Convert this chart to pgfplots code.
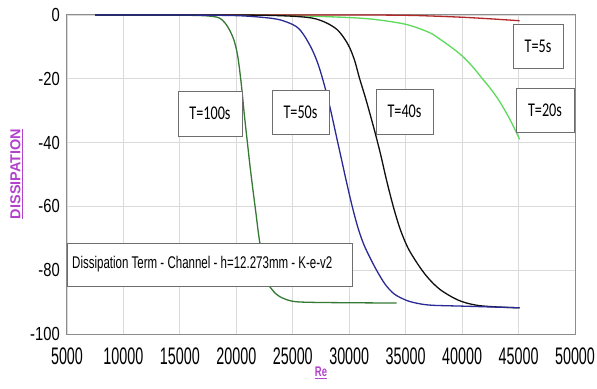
\documentclass[border=0pt]{standalone}
\usepackage{fontspec}
\usepackage{pgfplots}
\pgfplotsset{compat=1.18}
\setmainfont{Liberation Sans}
\newfontfamily\ytickfont{Liberation Sans}[FakeStretch=0.78]
\newfontfamily\xtickfont{Liberation Sans}[FakeStretch=0.6]
\newfontfamily\notefont{Liberation Sans}[FakeStretch=0.68]
\newfontfamily\boxfont{Carlito}[FakeStretch=0.73]

\definecolor{gridgray}{RGB}{218,218,218}
\definecolor{axisgray}{RGB}{140,140,140}
\definecolor{boxgray}{RGB}{110,110,110}
\definecolor{labelpurple}{RGB}{178,66,204}
\definecolor{cA}{RGB}{52,122,52}   % T=100s
\definecolor{cB}{RGB}{42,42,150}   % T=50s
\definecolor{cC}{RGB}{15,15,15}    % T=40s
\definecolor{cD}{RGB}{92,218,92}   % T=20s
\definecolor{cE}{RGB}{178,40,40}   % T=5s

\begin{document}
\begin{tikzpicture}
\begin{axis}[
  at={(0,0)}, anchor=south west,
  scale only axis, width=508bp, height=319bp,
  xmin=5000, xmax=50000, ymin=-100, ymax=0,
  xtick={5000,10000,...,50000}, ytick={-100,-80,...,0},
  grid=major, major grid style={draw=gridgray, line width=0.8bp},
  axis line style={draw=axisgray, line width=1bp},
  tick style={draw=none},
  scaled x ticks=false,
  /pgf/number format/assume math mode=true,
  /pgf/number format/1000 sep={},
  xticklabel style={font=\xtickfont\fontsize{24}{24}\selectfont, anchor=north, inner sep=0pt, yshift=-14bp},
  yticklabel style={font=\ytickfont\fontsize{19}{19}\selectfont, anchor=east, inner sep=0pt, xshift=-7bp},
  every axis plot/.append style={line width=1.3bp, no marks, smooth, tension=0.5},
]
% T=20s
\addplot[cD] coordinates {(7500,0) (20000,0) (25000,-0.2) (30000,-0.8) (32500,-1.5) (35100,-3) (37100,-5.5) (38000,-7.5) (39000,-10) (40000,-12.8) (41000,-16.5) (41800,-20) (42500,-23) (43300,-27) (44200,-32.5) (45100,-39)};
% T=5s
\addplot[cE] coordinates {(7500,0) (30000,0) (35000,-0.1) (37100,-0.3) (40000,-0.7) (42500,-1.2) (45100,-1.8)};
% T=100s
\addplot[cA] coordinates {(7500,0) (12000,0) (15000,-0.05) (17000,-0.2) (18000,-0.5) (18540,-1) (19000,-2.5) (19400,-4.7) (19800,-8) (20130,-13) (20450,-22) (20700,-31) (20950,-39) (21200,-47) (21460,-54.5) (21750,-62.5) (22000,-69.5) (22400,-78) (22790,-84) (23150,-86) (23500,-87.4) (23850,-88.3) (24500,-89.3) (25330,-89.9) (27000,-90.1) (30000,-90.2) (34200,-90.3)};
% T=40s
\addplot[cC] coordinates {(7500,0) (20000,0) (24500,-0.3) (26770,-1) (28000,-2.5) (28900,-4.5) (29500,-7) (30050,-10.3) (30500,-14.5) (30900,-19.7) (31400,-25.5) (31800,-30.5) (32300,-37) (32800,-44) (33300,-51.7) (33900,-60) (34500,-67) (35200,-73) (36000,-77.7) (36700,-81.2) (37400,-84) (38100,-86.2) (38900,-88) (39600,-89.3) (40400,-90.3) (41500,-91.1) (43000,-91.5) (45100,-91.8)};
% T=50s
\addplot[cB] coordinates {(7500,0) (15000,0) (20000,-0.2) (22500,-0.8) (23850,-1.5) (25000,-3) (25600,-4.5) (26200,-7.5) (26800,-11.5) (27300,-16) (27800,-22) (28300,-29) (28800,-37) (29300,-45) (29800,-53) (30300,-60.5) (30800,-67) (31300,-72) (31900,-76.5) (32500,-80.5) (33200,-84.5) (34000,-87.5) (35100,-89.5) (36200,-90.5) (37400,-91) (40400,-91.3) (45100,-91.8)};
\end{axis}

% annotation boxes
\tikzset{tbox/.style={draw=boxgray, line width=0.8bp, fill=white, inner sep=0pt,
  font=\boxfont\fontsize{19.5}{19.5}\selectfont}}
\node[tbox, minimum width=64bp, minimum height=45bp] at (143bp,220.5bp) {T=100s};
\node[tbox, minimum width=57bp, minimum height=44bp] at (233.5bp,222bp) {T=50s};
\node[tbox, minimum width=57bp, minimum height=45bp] at (337.5bp,222.5bp) {T=40s};
\node[tbox, minimum width=50bp, minimum height=44bp] at (471bp,288bp) {T=5s};
\node[tbox, minimum width=58bp, minimum height=44bp] at (478bp,224bp) {T=20s};
\draw[draw=boxgray, line width=0.8bp, fill=white] (0bp,48bp) rectangle (285bp,91bp);
\node[anchor=west, inner sep=0pt, font=\notefont\fontsize{17}{17}\selectfont] at (5bp,69.5bp)
  {Dissipation Term - Channel - h=12.273mm - K-e-v2};

% axis titles
\node[rotate=90, inner sep=0pt, text=labelpurple, font=\bfseries\fontsize{14.5}{14.5}\selectfont]
  at (-50.5bp,160bp) {\underline{DISSIPATION}};
\node[inner sep=0pt, text=labelpurple, font=\notefont\bfseries\fontsize{14}{14}\selectfont]
  at (254bp,-39bp) {\underline{Re}};

\pgfresetboundingbox
\path[use as bounding box] (-67bp,-55bp) rectangle (530bp,334bp);
\end{tikzpicture}
\end{document}
